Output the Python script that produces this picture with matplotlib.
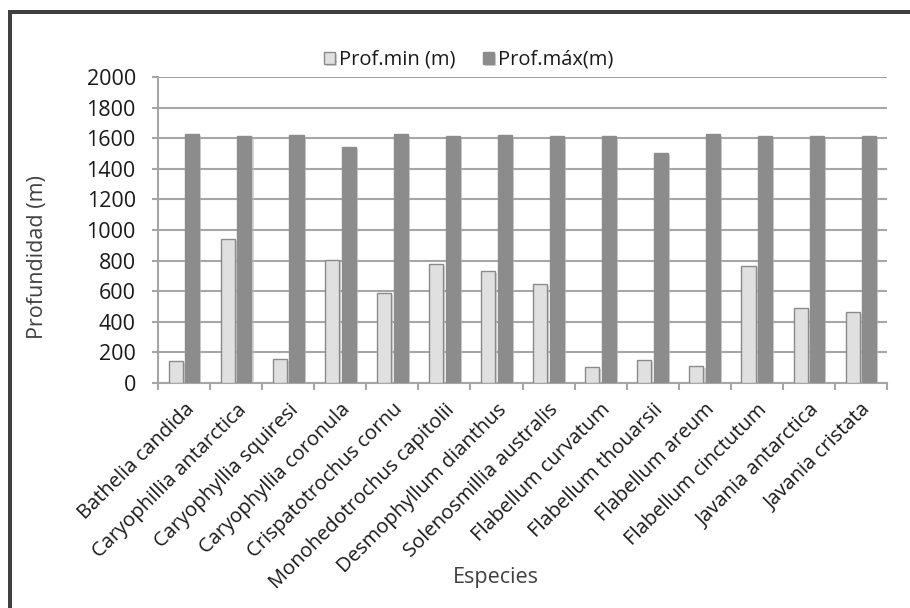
import numpy as np
import matplotlib
matplotlib.use("Agg")
import matplotlib.pyplot as plt
from matplotlib.lines import Line2D
from matplotlib.ticker import FixedLocator, MultipleLocator
import matplotlib.patheffects as pe

plt.rcParams['font.family'] = ['Open Sans', 'DejaVu Sans']

especies = [
    "Bathelia candida", "Caryophillia antarctica", "Caryophyllia squiresi",
    "Caryophyllia coronula", "Crispatotrochus cornu", "Monohedotrochus capitolii",
    "Desmophyllum dianthus", "Solenosmillia australis", "Flabellum curvatum",
    "Flabellum thouarsii", "Flabellum areum", "Flabellum cinctutum",
    "Javania antarctica", "Javania cristata",
]
prof_min = [142, 941, 157, 802, 590, 780, 734, 649, 107, 150, 111, 763, 488, 462]
prof_max = [1625, 1612, 1619, 1542, 1627, 1612, 1620, 1612, 1612, 1501, 1627, 1614, 1614, 1614]

W, H, DPI = 910, 608, 100
fig = plt.figure(figsize=(W / DPI, H / DPI), dpi=DPI)
ax = fig.add_axes([158 / W, 1 - 383 / H, (887 - 158) / W, (383 - 77) / H])

x = np.arange(len(especies))
bw = 0.27
off = 0.16
shadow = [pe.SimplePatchShadow(offset=(1.5, -1.5), shadow_rgbFace='#bbbbbb', alpha=0.6), pe.Normal()]

b1 = ax.bar(x - off, prof_min, bw, color='#e0e0e0', edgecolor='#8a8a8a',
            linewidth=1.0, label='Prof.min (m)', zorder=3)
b2 = ax.bar(x + off, prof_max, bw, color='#8c8c8c', edgecolor='#8c8c8c',
            linewidth=1.0, label='Prof.máx(m)', zorder=3)
for bar in list(b1) + list(b2):
    bar.set_path_effects(shadow)

ax.set_xlim(-0.5, len(especies) - 0.5)
ax.set_ylim(0, 2000)
ax.yaxis.set_major_locator(MultipleLocator(200))
ax.grid(axis='y', color='#a6a6a6', linewidth=1.5, zorder=0)
ax.set_axisbelow(True)

for s in ['top', 'right']:
    ax.spines[s].set_visible(False)
for s in ['left', 'bottom']:
    ax.spines[s].set_color('#a6a6a6')
    ax.spines[s].set_linewidth(1.5)

ax.set_xticks(x)
ax.set_xticklabels(especies, rotation=45, ha='right', rotation_mode='anchor',
                   fontsize=14.5, color='#1a1a1a')
ax.xaxis.set_minor_locator(FixedLocator(np.arange(-0.5, len(especies), 1.0)))
ax.tick_params(axis='x', which='major', length=0, pad=12)
ax.tick_params(axis='x', which='minor', length=5, width=1.5, color='#a6a6a6')
ax.tick_params(axis='y', length=4, width=1.5, color='#a6a6a6',
               labelsize=15.5, labelcolor='#1a1a1a', pad=12)

ax.set_ylabel('Profundidad (m)', fontsize=15.5, color='#404040')
ax.yaxis.set_label_coords(38 / W, 1 - 257 / H, transform=fig.transFigure)
ax.yaxis.label.set_va('center')
ax.set_xlabel('Especies', fontsize=15.5, color='#404040')
ax.xaxis.set_label_coords(496 / W, 1 - 578 / H, transform=fig.transFigure)
ax.xaxis.label.set_va('center')

leg = fig.legend(handles=[b1, b2], loc='center', bbox_to_anchor=(0.515, 1 - 60 / H),
                 ncol=2, frameon=False, fontsize=14.5, handlelength=0.55,
                 handleheight=0.55, handletextpad=0.2, columnspacing=1.4)
for t in leg.get_texts():
    t.set_color('#1a1a1a')

# dark frame along the top and left edges
fw = 4 * 72 / DPI
fig.add_artist(Line2D([10 / W, 10 / W], [0, 1 - 12 / H], color='#404040', linewidth=fw,
                      transform=fig.transFigure, solid_capstyle='projecting'))
fig.add_artist(Line2D([10 / W, 1], [1 - 12 / H, 1 - 12 / H], color='#404040', linewidth=fw,
                      transform=fig.transFigure, solid_capstyle='projecting'))

fig.savefig('out.png', dpi=DPI)
